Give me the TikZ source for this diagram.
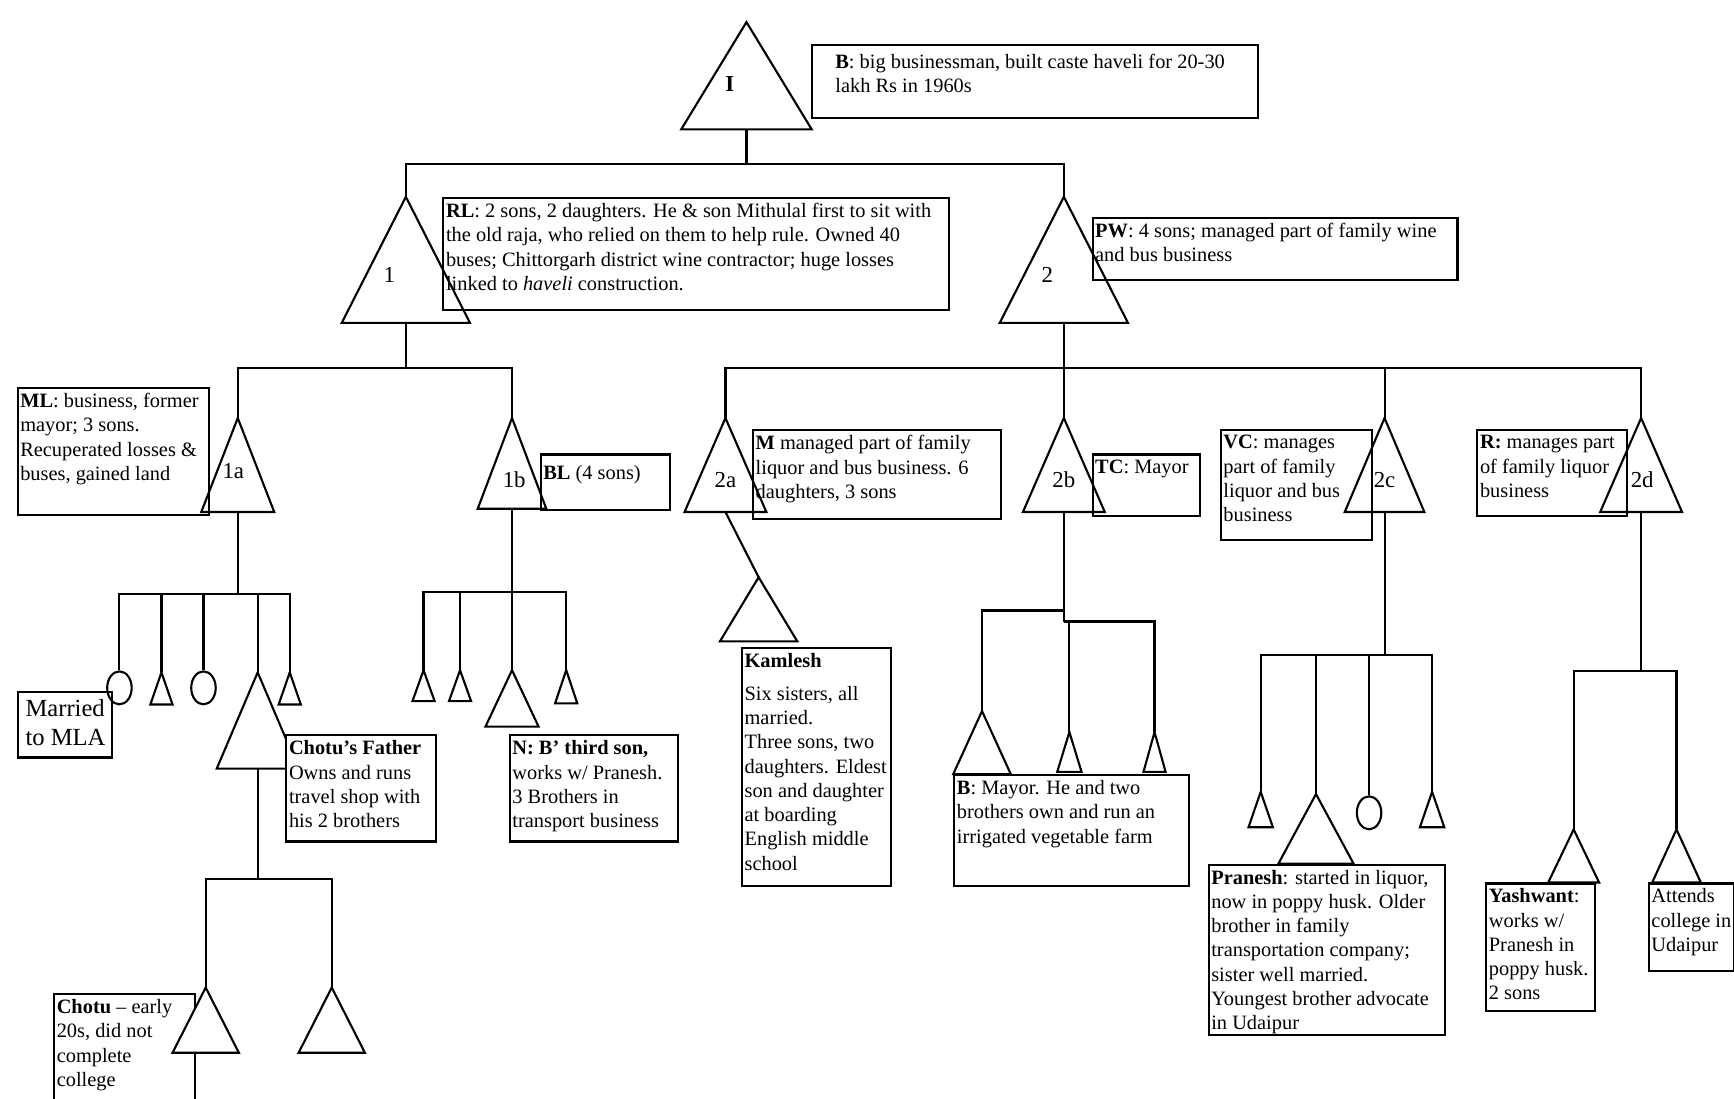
\documentclass[tikz,border=0pt]{standalone}
\usepackage{fontspec}
\setmainfont{Liberation Serif}
\usetikzlibrary{shapes.geometric}

\newlength{\unitpx}
\setlength{\unitpx}{0.2212mm}
% text box: [top gap]{width}{height}{text}
\newcommand{\pb}[4][3pt]{\parbox[c][#3\unitpx][t]{#2\unitpx}{\raggedright\leftskip=1.5pt\vspace*{#1}#4}}
% triangle: [options]{name}{apex x}{apex y}{half width}{height}
\newcommand{\famtri}[6][]{%
  \coordinate (#2) at (#3,#4);
  \coordinate (#2-b) at (#3,#4+#6);
  \draw[#1] (#2) -- ++(-#5,#6) -- ++(2*#5,0) -- cycle;}

\tikzset{
  box/.style={draw, inner sep=0pt, anchor=north west, font=\fontsize{11.6}{13.8}\selectfont},
  lbl/.style={font=\fontsize{13}{15}\selectfont},
  circ/.style={draw, fill=white, ellipse, inner sep=0pt, minimum width=4.9mm, minimum height=6.6mm}
}

\begin{document}
\begin{tikzpicture}[x=0.2212mm, y=-0.2212mm, line width=1.2pt]
    \useasboundingbox (0,0) rectangle (1568,993);
    \clip (0,0) rectangle (1568,993);

    % generation I
    \famtri{tI}{675}{20}{59}{97}
    \node[lbl] (lI) at (660,76) {\textbf{I}};
    \node[box] (bxB) at (733,40) {\pb[5pt]{404}{66}{\hspace*{12pt}\textbf{B}: big businessman, built caste haveli for 20-30\\\hspace*{12pt}lakh Rs in 1960s}};

    % generation 1
    \coordinate (j0) at (675,148);
    \famtri{t1}{367}{178}{58}{114}
    \famtri{t2}{962}{178}{58}{114}
    \draw (tI-b) -- (j0);
    \draw (t1) |- (j0) -| (t2);
    \node[lbl] (l1) at (352,249) {1};
    \node[lbl] (l2) at (947,249) {2};
    \node[box] (bxRL) at (400,178) {\pb{457}{101}{\textbf{RL}: 2 sons, 2 daughters. He \& son Mithulal first to sit with\\the old raja, who relied on them to help rule. Owned 40\\buses; Chittorgarh district wine contractor; huge losses\\linked to \emph{haveli} construction.}};
    \node[box] (bxPW) at (987,196) {\pb{330}{56}{\textbf{PW}: 4 sons; managed part of family wine\\and bus business}};

    % generation 2
    \coordinate (j1) at (367,333);
    \coordinate (j2) at (962,333);
    \draw (t1-b) -- (j1);
    \draw (t2-b) -- (j2);
    \famtri{t1a}{215}{378}{33}{85}
    \famtri{t1b}{463}{378}{31}{82}
    \famtri{t2a}{656}{378}{37}{85}
    \famtri{t2b}{962}{378}{37}{85}
    \famtri{t2c}{1252}{378}{36}{85}
    \famtri{t2d}{1484}{378}{37}{85}
    \draw (j1) -| (t1a);
    \draw (j1) -| (t1b);
    \draw (j2) -- (t2b);
    \foreach \c in {t2a,t2c,t2d}
        \draw (j2) -| (\c);
    \node[lbl] (l1a) at (211,426) {1a};
    \node[lbl] (l1b) at (465,434) {1b};
    \node[lbl] (l2a) at (656,434) {2a};
    \node[lbl] (l2b) at (962,434) {2b};
    \node[lbl] (l2c) at (1252,434) {2c};
    \node[lbl] (l2d) at (1485,434) {2d};
    \node[box] (bxML) at (15,350) {\pb{173}{115}{\textbf{ML}: business, former\\mayor; 3 sons.\\Recuperated losses \&\\buses, gained land}};
    \node[box] (bxBL) at (488,410) {\pb[6pt]{117}{50}{\textbf{BL} (4 sons)}};
    \node[box] (bxM) at (680,388) {\pb{224}{80}{\textbf{M} managed part of family\\liquor and bus business. 6\\daughters, 3 sons}};
    \node[box] (bxTC) at (987,410) {\pb{97}{56}{\textbf{TC}: Mayor}};
    \node[box] (bxVC) at (1103,388) {\pb{137}{99}{\textbf{VC}: manages\\part of family\\liquor and bus\\business}};
    \node[box] (bxR) at (1335,388) {\pb{135}{78}{\textbf{R:} manages part\\of family liquor\\business}};

    % children of 1a
    \coordinate (j1a) at (215,537);
    \draw (t1a-b) -- (j1a);
    \node[circ] (c1) at (108,622) {};
    \node[circ] (c2) at (184,622) {};
    \famtri{s1}{146}{608}{10}{29}
    \famtri{tCF}{233}{608}{37}{87}
    \famtri{s2}{262}{608}{10}{29}
    \draw (j1a) -| (c1.north);
    \draw (j1a) -| (c2.north);
    \foreach \c in {s1,tCF,s2}
        \draw (j1a) -| (\c);
    \node[box] (bxMLA) at (15,625) {\pb[4pt]{85}{59}{\fontsize{14}{16.5}\selectfont\hspace*{3pt}Married\\\hspace*{3pt}to MLA}};
    \node[box, fill=white] (bxCF) at (258,664) {\pb{135}{96}{\textbf{Chotu's Father}\\Owns and runs\\travel shop with\\his 2 brothers}};

    % children of Chotu's father
    \coordinate (jCF) at (233,795);
    \draw (tCF-b) -- (jCF);
    \node[box] (bxC) at (48,898) {\pb{127}{130}{\textbf{Chotu} -- early\\20s, did not\\complete\\college}};
    \famtri[fill=white]{tC}{186}{893}{30}{59}
    \famtri{tC2}{300}{893}{30}{59}
    \draw (jCF) -| (tC);
    \draw (jCF) -| (tC2);

    % children of 1b
    \coordinate (j1b) at (463,535);
    \draw (t1b-b) -- (j1b);
    \famtri{s3}{383}{606}{10}{28}
    \famtri{s4}{416}{606}{10}{28}
    \famtri{tN}{463}{606}{24}{51}
    \famtri{s5}{512}{606}{10}{30}
    \foreach \c in {s3,s4,tN,s5}
        \draw (j1b) -| (\c);
    \node[box] (bxN) at (460,664) {\pb{152}{96}{\textbf{N: B' third son,}\\works w/ Pranesh.\\3 Brothers in\\transport business}};

    % child of 2a
    \famtri{tK}{686}{522}{35}{58}
    \draw (t2a-b) -- (tK);
    \node[box] (bxK) at (670,585) {\pb{135}{215}{\textbf{Kamlesh}\\[5pt]Six sisters, all\\married.\\Three sons, two\\daughters. Eldest\\son and daughter\\at boarding\\English middle\\school}};

    % children of 2b
    \coordinate (j2bL) at (962,552);
    \coordinate (j2bR) at (962,562);
    \draw (t2b-b) -- (j2bR);
    \famtri{tB}{888}{643}{26}{57}
    \famtri{s6}{967}{662}{11}{36}
    \famtri{s7}{1044}{662}{10}{36}
    \draw (j2bL) -| (tB);
    \draw (j2bR) -| (s6);
    \draw (j2bR) -| (s7);
    \node[box] (bxMay) at (862,700) {\pb{212}{100}{\textbf{B}: Mayor. He and two\\brothers own and run an\\irrigated vegetable farm}};

    % children of 2c
    \coordinate (j2c) at (1252,592);
    \draw (t2c-b) -- (j2c);
    \famtri{s8}{1140}{716}{11}{32}
    \famtri{tP}{1190}{718}{34}{63}
    \node[circ] (c3) at (1238,735) {};
    \famtri{s9}{1295}{716}{11}{32}
    \foreach \c in {s8,tP,s9}
        \draw (j2c) -| (\c);
    \draw (j2c) -| (c3.north);
    \node[box] (bxP) at (1092,781) {\pb{214}{154}{\textbf{Pranesh}: started in liquor,\\now in poppy husk. Older\\brother in family\\transportation company;\\sister well married.\\Youngest brother advocate\\in Udaipur}};

    % children of 2d
    \coordinate (j2d) at (1484,607);
    \draw (t2d-b) -- (j2d);
    \famtri{tY}{1423}{750}{23}{48}
    \famtri{tA}{1516}{750}{22}{48}
    \draw (j2d) -| (tY);
    \draw (j2d) -| (tA);
    \node[box] (bxY) at (1343,798) {\pb{98}{115}{\textbf{Yashwant}:\\works w/\\Pranesh in\\poppy husk.\\2 sons}};
    \node[box] (bxA) at (1490,798) {\pb{77}{79}{Attends\\college in\\Udaipur}};
\end{tikzpicture}
\end{document}
